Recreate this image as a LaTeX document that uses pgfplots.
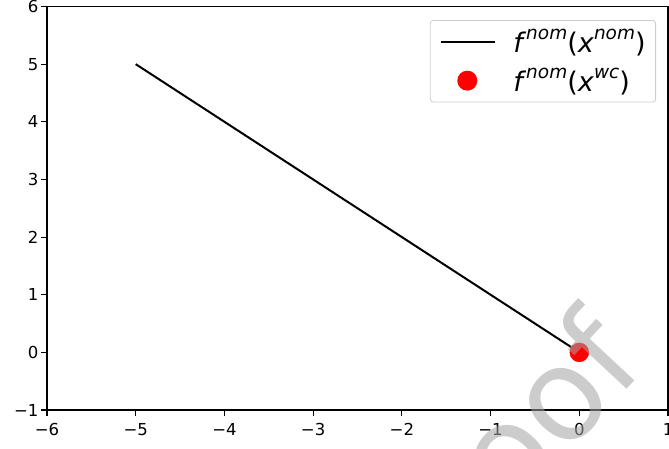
\documentclass[border=0pt]{standalone}
\usepackage{fontspec}
\setmainfont{DejaVu Sans}
\usepackage{pgfplots}
\pgfplotsset{compat=1.18}
\definecolor{wmgray}{gray}{0.64}
\definecolor{legframe}{gray}{0.8}
\newcommand{\supit}[1]{\raisebox{0.48em}{\fontsize{18.5}{18.5}\selectfont\textit{#1}}}
\newcommand{\fnom}[1]{\textit{f}\supit{nom}(\textit{x}\supit{#1})}

\begin{document}
\begin{tikzpicture}
\useasboundingbox (0,0) rectangle (669pt,448pt);
\clip (0,0) rectangle (669pt,448pt);
\begin{axis}[
  at={(47pt,38pt)}, anchor=south west,
  scale only axis, width=621pt, height=403.5pt,
  xmin=-6, xmax=1, ymin=-1, ymax=6,
  xtick={-6,-5,-4,-3,-2,-1,0,1},
  ytick={-1,0,1,2,3,4,5,6},
  xticklabels={−6,−5,−4,−3,−2,−1,0,1},
  yticklabels={−1,0,1,2,3,4,5,6},
  xtick pos=left, ytick pos=left,
  tick align=outside,
  major tick length=6pt,
  tick style={black, line width=1.1pt},
  axis line style={line width=1.1pt},
  ticklabel style={font=\fontsize{16.5}{19}\selectfont},
  xticklabel style={yshift=-4pt},
  yticklabel style={xshift=1pt},
  legend cell align=left,
  legend style={
    at={(rel axis cs:0.9807,0.9665)}, anchor=north east,
    draw=legframe, line width=0.8pt, rounded corners=3pt,
    fill=white, font=\fontsize{27}{31}\selectfont,
    inner xsep=10pt, inner ysep=9pt, row sep=14pt,
    nodes={inner sep=0pt},
    /tikz/every odd column/.append style={column sep=17pt},
  },
]
\addlegendimage{legend image code/.code={\draw[black, line width=2pt] (0pt,0pt) -- (54pt,0pt);}}
\addlegendentry{\fnom{nom}}
\addlegendimage{legend image code/.code={\path[draw=none, fill=none] (0pt,0pt) -- (54pt,0pt); \fill[red, draw=none] (26pt,0pt) circle (10pt);}}
\addlegendentry{\fnom{wc}}
\addplot[forget plot, only marks, mark=*, mark size=9.5pt, red, mark options={fill=red, draw=red}]
  coordinates {(0,0)};
\addplot[forget plot, black, line width=2pt]
  coordinates {(-5,5) (0,0)};
\end{axis}
\node[rotate=47, anchor=base east, inner sep=0pt, text=wmgray, text opacity=0.55,
  font=\fontsize{128}{128}\selectfont] at (648.5pt,81.8pt) {Proof};
\end{tikzpicture}
\end{document}
